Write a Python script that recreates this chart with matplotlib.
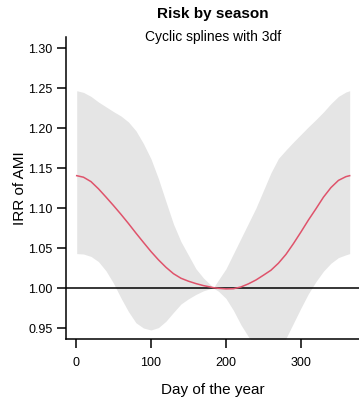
from __future__ import annotations

import matplotlib

matplotlib.use("Agg")
import matplotlib.pyplot as plt
import numpy as np

# day of the year where the estimates were read off the picture
DAYS = [1, 10, 20, 30, 40, 50, 60, 70, 80, 90, 100, 110, 120, 130, 140, 150,
        160, 170, 180, 183, 190, 200, 210, 220, 230, 240, 250, 260, 270, 280,
        290, 300, 310, 320, 330, 340, 350, 360, 365]

IRR = [1.1404, 1.1385, 1.1330, 1.1240, 1.1137, 1.1031, 1.0921, 1.0806,
       1.0686, 1.0570, 1.0456, 1.0352, 1.0259, 1.0179, 1.0122, 1.0085,
       1.0055, 1.0030, 1.0011, 1.0005, 0.9996, 0.9989, 0.9991, 1.0013,
       1.0052, 1.0100, 1.0160, 1.0222, 1.0310, 1.0420, 1.0555, 1.0700,
       1.0850, 1.0990, 1.1135, 1.1255, 1.1345, 1.1392, 1.1404]

UPPER = [1.2466, 1.2445, 1.2395, 1.2325, 1.2265, 1.2205, 1.2150, 1.2075,
         1.1965, 1.1805, 1.1615, 1.1365, 1.1080, 1.0800, 1.0580, 1.0410,
         1.0240, 1.0125, 1.0035, 1.0000, 1.0100, 1.0240, 1.0430, 1.0620,
         1.0810, 1.1000, 1.1220, 1.1440, 1.1620, 1.1725, 1.1825, 1.1920,
         1.2015, 1.2105, 1.2200, 1.2305, 1.2395, 1.2450, 1.2466]

LOWER = [1.0430, 1.0425, 1.0395, 1.0330, 1.0215, 1.0060, 0.9875, 0.9705,
         0.9565, 0.9500, 0.9475, 0.9505, 0.9585, 0.9695, 0.9800, 0.9865,
         0.9920, 0.9965, 0.9995, 1.0000, 0.9960, 0.9870, 0.9720, 0.9540,
         0.9390, 0.9270, 0.9200, 0.9180, 0.9240, 0.9370, 0.9560, 0.9750,
         0.9930, 1.0080, 1.0210, 1.0310, 1.0380, 1.0415, 1.0430]

X_TICKS = [0, 100, 200, 300]
Y_TICKS = [0.95, 1.00, 1.05, 1.10, 1.15, 1.20, 1.25, 1.30]

TITLE = "Risk by season"
SUBTITLE = "Cyclic splines with 3df"
X_LABEL = "Day of the year"
Y_LABEL = "IRR of AMI"

LINE_COLOR = "#DF536B"
BAND_COLOR = "#E5E5E5"


def r_limits(lo: float, hi: float) -> tuple[float, float]:
    # R's default 4% axis padding
    pad = (hi - lo) * 0.04
    return lo - pad, hi + pad


def draw() -> plt.Figure:
    plt.rcParams["font.family"] = ["Liberation Sans", "DejaVu Sans"]

    fig = plt.figure(figsize=(3.59, 3.98), dpi=100)
    # placed so ticks land where the reference has them
    ax = fig.add_axes([65.8 / 359, 1 - 339.2 / 398, 294.8 / 359, 302.4 / 398])

    days = np.array(DAYS)
    ax.fill_between(days, LOWER, UPPER, color=BAND_COLOR, linewidth=0, zorder=1)
    ax.axhline(1.0, color="black", linewidth=1.1, zorder=2)
    ax.plot(days, IRR, color=LINE_COLOR, linewidth=1.1, zorder=3)

    ax.set_xlim(*r_limits(1, 365))
    ax.set_ylim(*r_limits(0.95, 1.30))

    ax.set_xticks(X_TICKS)
    ax.set_xticklabels([str(t) for t in X_TICKS])
    ax.set_yticks(Y_TICKS)
    ax.set_yticklabels([f"{t:.2f}" for t in Y_TICKS])
    ax.tick_params(axis="both", direction="out", length=6.5, width=1.1,
                   labelsize=9, colors="black")
    ax.tick_params(axis="x", pad=6.5)
    ax.tick_params(axis="y", pad=3)

    for side in ("top", "right"):
        ax.spines[side].set_visible(False)
    for side in ("left", "bottom"):
        ax.spines[side].set_linewidth(1.1)
        ax.spines[side].set_color("black")

    ax.set_xlabel(X_LABEL, fontsize=11, va="center")
    ax.xaxis.set_label_coords(0.5, -0.168)
    ax.set_ylabel(Y_LABEL, fontsize=11, va="center")
    ax.yaxis.set_label_coords(-0.157, 0.5)

    ax.text(0.5, 1.075, TITLE, transform=ax.transAxes, ha="center",
            va="center", fontsize=11, fontweight="bold", clip_on=False)
    ax.text(0.5, 0.998, SUBTITLE, transform=ax.transAxes, ha="center",
            va="center", fontsize=10, clip_on=False)
    return fig


if __name__ == "__main__":
    fig = draw()
    fig.savefig("out.png", dpi=100)
